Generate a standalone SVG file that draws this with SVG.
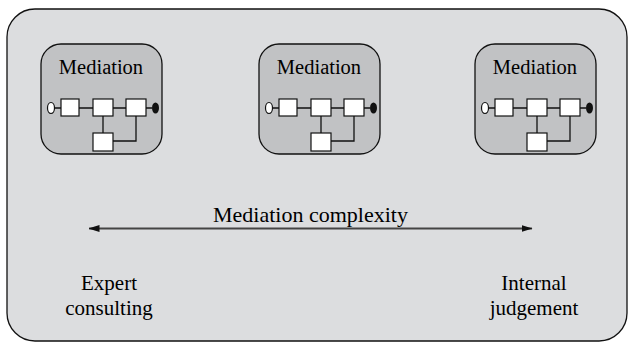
<svg xmlns="http://www.w3.org/2000/svg" width="630" height="344" viewBox="0 0 630 344">
<defs>
<style>
.t{font-family:"Liberation Serif","Times New Roman",serif;fill:#000;text-anchor:middle}
.box{fill:#c1c2c4;stroke:#111;stroke-width:1.3}
.sq{fill:#fff;stroke:#111;stroke-width:1.2}
.ln{fill:none;stroke:#111;stroke-width:1.3}
</style>
<g id="mednode">
<rect class="box" x="0" y="0" width="121" height="110" rx="20"/>
<text class="t" x="60" y="30" font-size="20.5">Mediation</text>
<path class="ln" d="M13 64H20M38 64H52M72 64H85M105 64H111M62 72V89M95 72V97H72"/>
<ellipse cx="10" cy="64" rx="3.5" ry="5.5" fill="#fff" stroke="#111" stroke-width="1.2"/>
<ellipse cx="114.5" cy="64" rx="3.5" ry="5.5" fill="#111"/>
<rect class="sq" x="20" y="55" width="18" height="17"/>
<rect class="sq" x="52" y="55" width="20" height="17"/>
<rect class="sq" x="85" y="55" width="20" height="17"/>
<rect class="sq" x="52" y="89" width="20" height="18"/>
</g>
<marker id="ah" viewBox="0 0 11 7" refX="10.5" refY="3.5" markerWidth="11" markerHeight="7" markerUnits="userSpaceOnUse" orient="auto-start-reverse">
<path d="M0 0L11 3.5L0 7Z" fill="#111"/>
</marker>
</defs>
<g id="frame">
<rect x="7" y="9" width="620" height="332" rx="28" fill="#dcdddf" stroke="#111" stroke-width="1.3"/>
</g>
<g id="node1"><use href="#mednode" x="41" y="44"/></g>
<g id="node2"><use href="#mednode" x="259" y="44"/></g>
<g id="node3"><use href="#mednode" x="475" y="44"/></g>
<g id="connectors">
<line x1="89" y1="228.5" x2="532" y2="228.5" stroke="#444" stroke-width="2" marker-start="url(#ah)" marker-end="url(#ah)"/>
</g>
<g id="labels">
<text class="t" x="310.5" y="222" font-size="22">Mediation complexity</text>
<text class="t" x="109" y="290" font-size="21">Expert</text>
<text class="t" x="109" y="315" font-size="21">consulting</text>
<text class="t" x="534" y="290" font-size="21">Internal</text>
<text class="t" x="534" y="315" font-size="21">judgement</text>
</g>
</svg>
